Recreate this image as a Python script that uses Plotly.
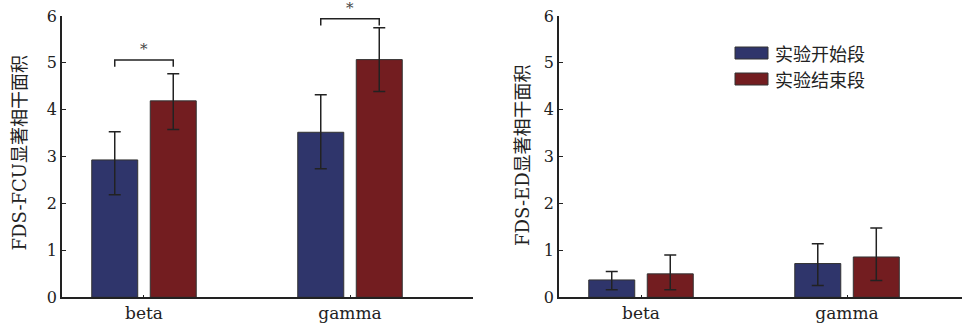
import plotly.graph_objects as go

categories = ["beta", "gamma"]
series_names = ["实验开始段", "实验结束段"]
colors = ["#2F356B", "#731D20"]

# left panel: FDS-FCU
fcu_start = [2.93, 3.52]
fcu_start_up = [0.60, 0.80]
fcu_start_dn = [0.74, 0.78]
fcu_end = [4.19, 5.07]
fcu_end_up = [0.58, 0.68]
fcu_end_dn = [0.61, 0.68]

# right panel: FDS-ED
ed_start = [0.37, 0.72]
ed_start_up = [0.18, 0.42]
ed_start_dn = [0.21, 0.47]
ed_end = [0.50, 0.86]
ed_end_up = [0.40, 0.62]
ed_end_dn = [0.34, 0.50]

# significance brackets (left panel)
sig_y = [5.06, 5.94]
sig_drop = 0.14
sig_star_y = [5.30, 6.16]

W, H = 962, 333
FONT = "DejaVu Serif, Noto Sans CJK SC, serif"
AX = "#222222"
Y_MAX = 6

xpos = list(range(len(categories)))
fig = go.Figure()

def add_bars(vals, up, dn, color, name, xa, ya):
    fig.add_trace(go.Bar(
        x=xpos, y=vals, name=name, marker=dict(color=color, line=dict(color="#333333", width=1)),
        error_y=dict(type="data", symmetric=False, array=up, arrayminus=dn,
                     color=AX, thickness=1.5, width=6),
        xaxis=xa, yaxis=ya, showlegend=False, offsetgroup=name,
    ))

add_bars(fcu_start, fcu_start_up, fcu_start_dn, colors[0], series_names[0], "x", "y")
add_bars(fcu_end, fcu_end_up, fcu_end_dn, colors[1], series_names[1], "x", "y")
add_bars(ed_start, ed_start_up, ed_start_dn, colors[0], series_names[0], "x2", "y2")
add_bars(ed_end, ed_end_up, ed_end_dn, colors[1], series_names[1], "x2", "y2")

bargap = 0.432
bargroupgap = 0.214
half = (1 - bargap) / 4  # center offset of each bar in a group

def px_x(p):
    return p / W

def px_y(p):
    return 1 - p / H

ydom = [px_y(297.3), px_y(16)]

def data_to_paper_y(v):
    return ydom[0] + (v / Y_MAX) * (ydom[1] - ydom[0])

for i, (yv, ys) in enumerate(zip(sig_y, sig_star_y)):
    x0 = xpos[i] - half
    x1 = xpos[i] + half
    fig.add_trace(go.Scatter(
        x=[x0, x0, x1, x1], y=[yv - sig_drop, yv, yv, yv - sig_drop],
        mode="lines", line=dict(color=AX, width=1.5), showlegend=False,
        xaxis="x", yaxis="y", cliponaxis=False, hoverinfo="skip",
    ))
    fig.add_annotation(x=xpos[i], xref="x", y=data_to_paper_y(ys), yref="paper", text="*",
                       showarrow=False, xanchor="center", yanchor="middle",
                       font=dict(family=FONT, size=15, color="#444444"))

axis_common = dict(showline=True, linecolor=AX, linewidth=1.5, showgrid=False, zeroline=False,
                   ticks="inside", tickcolor=AX, mirror=False, automargin=False)

fig.update_layout(
    width=W, height=H, margin=dict(l=0, r=0, t=0, b=0),
    paper_bgcolor="white", plot_bgcolor="white",
    barmode="group", bargap=bargap, bargroupgap=bargroupgap,
    font=dict(family=FONT, color=AX),
    xaxis=dict(domain=[px_x(62), px_x(473)], range=[-0.398, 1.597], tickvals=xpos, ticktext=categories,
               ticklen=3, tickwidth=1, tickfont=dict(size=17), anchor="y", **axis_common),
    yaxis=dict(domain=ydom, range=[0, Y_MAX], tickvals=[0, 1, 2, 3, 4, 5, 6], ticklen=4, tickwidth=1,
               tickfont=dict(size=16), anchor="x", **axis_common),
    xaxis2=dict(domain=[px_x(559), 1.0], range=[-0.398, 1.558], tickvals=xpos, ticktext=categories,
                ticklen=3, tickwidth=1, tickfont=dict(size=17), anchor="y2", **axis_common),
    yaxis2=dict(domain=ydom, range=[0, Y_MAX], tickvals=[0, 1, 2, 3, 4, 5, 6], ticklen=4, tickwidth=1,
                tickfont=dict(size=16), anchor="x2", **axis_common),
)

# axis titles
fig.add_annotation(x=px_x(18.5), y=px_y(153), xref="paper", yref="paper", text="FDS-FCU显著相干面积",
                   textangle=-90, showarrow=False, font=dict(family=FONT, size=18, color=AX),
                   xanchor="center", yanchor="middle")
fig.add_annotation(x=px_x(522), y=px_y(155), xref="paper", yref="paper", text="FDS-ED显著相干面积",
                   textangle=-90, showarrow=False, font=dict(family=FONT, size=18, color=AX),
                   xanchor="center", yanchor="middle")

# custom legend
leg_rows = [53, 79]
for name, color, cy in zip(series_names, colors, leg_rows):
    fig.add_shape(type="rect", xref="paper", yref="paper",
                  x0=px_x(735), x1=px_x(768), y0=px_y(cy + 6), y1=px_y(cy - 6),
                  fillcolor=color, line=dict(color="#333333", width=1))
    fig.add_annotation(x=px_x(773), y=px_y(cy), xref="paper", yref="paper", text=name,
                       showarrow=False, xanchor="left", yanchor="middle",
                       font=dict(family="Noto Sans CJK SC, sans-serif", size=18, color=AX))

fig.write_html("out.html")
